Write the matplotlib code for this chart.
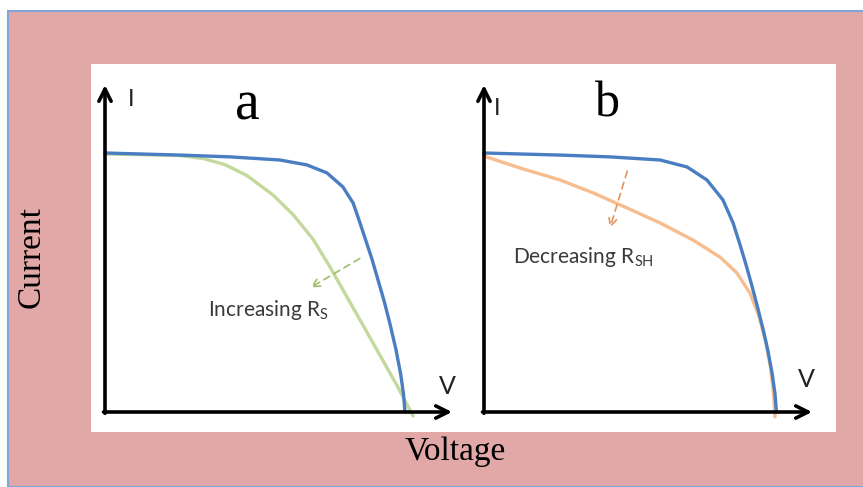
import matplotlib.pyplot as plt
from matplotlib.patches import Rectangle

# panel a: series resistance (V normalised to Voc, I normalised to Isc)
va_ref = [0.0, 0.25, 0.417, 0.583, 0.673, 0.74, 0.793, 0.827, 0.85, 0.87,
          0.89, 0.91, 0.93, 0.95, 0.97, 0.985, 0.995, 1.0]
ia_ref = [1.0, 0.992, 0.985, 0.973, 0.954, 0.923, 0.869, 0.807, 0.73, 0.66,
          0.59, 0.51, 0.43, 0.34, 0.24, 0.15, 0.07, 0.0]
va_rs = [0.0, 0.15, 0.25, 0.33, 0.40, 0.473, 0.56, 0.627, 0.693, 0.75,
         0.807, 0.86, 0.917, 0.973, 1.02, 1.027]
ia_rs = [0.996, 0.993, 0.99, 0.978, 0.955, 0.913, 0.838, 0.762, 0.668, 0.56,
         0.443, 0.335, 0.218, 0.103, 0.0, -0.015]

# panel b: shunt resistance
vb_ref = [0.0, 0.261, 0.433, 0.605, 0.698, 0.766, 0.821, 0.856, 0.88, 0.90,
          0.92, 0.94, 0.96, 0.975, 0.99, 1.0, 1.005]
ib_ref = [1.0, 0.992, 0.985, 0.973, 0.946, 0.896, 0.819, 0.730, 0.645, 0.57,
          0.49, 0.405, 0.315, 0.24, 0.15, 0.07, 0.0]
vb_rsh = [0.0, 0.124, 0.261, 0.375, 0.491, 0.605, 0.718, 0.811, 0.869, 0.914,
          0.945, 0.968, 0.985, 0.995, 1.0]
ib_rsh = [0.988, 0.942, 0.896, 0.846, 0.788, 0.730, 0.664, 0.598, 0.537, 0.459,
          0.37, 0.27, 0.17, 0.07, -0.019]

W, H = 863, 487
PINK = '#e2a8a7'
BLUE = '#4a7ec2'
GREEN = '#c5d89e'
ORANGE = '#f7bd8e'
TXT = '#3a3a3a'

fig = plt.figure(figsize=(W / 100, H / 100), dpi=100)
fig.patch.set_facecolor('white')

def fx(px):
    return px / W

def fy(py):
    return 1 - py / H

# pink frame and white picture area
fig.patches.append(Rectangle((fx(8), 0), 1, fy(11), transform=fig.transFigure,
                             facecolor=PINK, edgecolor='#7fa6d6', lw=1.5, zorder=0))
fig.patches.append(Rectangle((fx(91), fy(432)), fx(836 - 91), (432 - 64) / H,
                             transform=fig.transFigure, facecolor='white',
                             edgecolor='none', zorder=1))


def make_panel(left, right, x0, vscale, xarrow):
    top, bottom, y0, iscale = 75, 430, 412, 259
    ax = fig.add_axes([fx(left), fy(bottom), fx(right - left), (bottom - top) / H])
    ax.set_zorder(3)
    ax.set_xlim((left - x0) / vscale, (right - x0) / vscale)
    ax.set_ylim((y0 - bottom) / iscale, (y0 - top) / iscale)
    ax.axis('off')
    xa = (xarrow - x0) / vscale
    ya = (y0 - 85) / iscale
    arw = dict(arrowstyle='->', lw=2.6, color='black', mutation_scale=22,
               shrinkA=0, shrinkB=0)
    ax.annotate('', xy=(xa, 0), xytext=(-0.005, 0), arrowprops=arw, zorder=5)
    ax.annotate('', xy=(0, ya), xytext=(0, -0.005), arrowprops=arw, zorder=5)
    return ax


line_kw = dict(lw=2.4, solid_capstyle='round', solid_joinstyle='round')

ax_a = make_panel(95, 462, 105, 300, 452)
ax_a.plot(va_rs, ia_rs, color=GREEN, zorder=3, **line_kw)
ax_a.plot(va_ref, ia_ref, color=BLUE, zorder=4, **line_kw)
ax_a.annotate('', xy=(0.677, 0.475), xytext=(0.857, 0.598),
              arrowprops=dict(arrowstyle='->', lw=1.2, color='#9fbf6a',
                              linestyle=(0, (4, 3)), mutation_scale=14))
ax_a.text(0.343, 0.394, r'Increasing R$_\mathregular{S}$', fontsize=15,
          family='Lato', color=TXT, va='center', ha='left')
ax_a.text(0.087, 1.205, 'I', fontsize=17, family='Lato', color='#222222',
          va='center', ha='center')
ax_a.text(1.14, 0.097, 'V', fontsize=18, family='Lato', color='#222222',
          va='center', ha='center')
ax_a.text(0.473, 1.185, 'a', fontsize=40, family='Liberation Serif',
          va='center', ha='center')

ax_b = make_panel(474, 832, 484, 291, 812)
ax_b.plot(vb_rsh, ib_rsh, color=ORANGE, zorder=3, **line_kw)
ax_b.plot(vb_ref, ib_ref, color=BLUE, zorder=4, **line_kw)
ax_b.annotate('', xy=(0.430, 0.700), xytext=(0.495, 0.940),
              arrowprops=dict(arrowstyle='->', lw=1.2, color='#e8925a',
                              linestyle=(0, (4, 3)), mutation_scale=14))
ax_b.text(0.10, 0.598, r'Decreasing R$_\mathregular{SH}$', fontsize=15,
          family='Lato', color=TXT, va='center', ha='left')
ax_b.text(0.045, 1.17, 'I', fontsize=17, family='Lato', color='#222222',
          va='center', ha='center')
ax_b.text(1.107, 0.124, 'V', fontsize=18, family='Lato', color='#222222',
          va='center', ha='center')
ax_b.text(0.423, 1.19, 'b', fontsize=36, family='Liberation Serif',
          va='center', ha='center')

fig.text(fx(455), fy(452), 'Voltage', fontsize=24, family='Liberation Serif',
         ha='center', va='center')
fig.text(fx(31), fy(257), 'Current', fontsize=24, family='Liberation Serif',
         ha='center', va='center', rotation=90)

fig.savefig('out.png', dpi=100)
